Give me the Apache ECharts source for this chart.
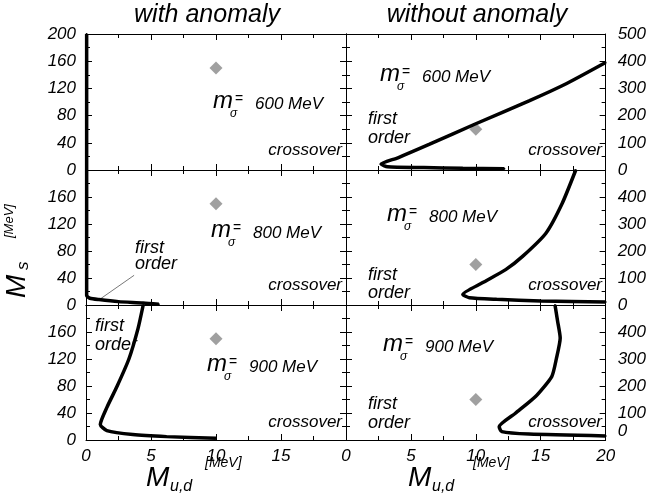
<!DOCTYPE html>
<html>
<head>
<meta charset="utf-8">
<script src="https://cdn.jsdelivr.net/npm/echarts@6/dist/echarts.min.js"></script>
<style>
html, body { margin: 0; padding: 0; background: #fff; }
#chart { width: 649px; height: 495px; }
</style>
</head>
<body>
<div id="chart"></div>
<script>
/* ========== 数据 ========== */

const xMinMax = [0, 20];
const xTickStep = 5;
const yLeftMinMax = [0, 200];
const yLeftStep = 40;
const yRightMinMax = [0, 500];
const yRightStep = 100;

const sigmaMasses = ["600", "800", "900"];
const columnTitles = ["with anomaly", "without anomaly"];
const refPoint = [10, 150];

// with anomaly
const withAnomaly600 = [[0.05, 0], [0.05, 200]];
const withAnomaly800 = [[0.05, 200], [0.05, 14], [0.3, 10], [1.0, 8], [2.5, 5], [4.4, 3], [5.6, 1]];
const withAnomaly900 = [[4.4, 200], [4.0, 165], [3.3, 120], [2.4, 80], [1.6, 48], [1.1, 23],
    [1.6, 14], [3.6, 8], [6.2, 5], [10, 2.5]];
const leader800 = [[3.7, 44], [1.1, 9]];

// without anomaly
const noAnomaly600 = [[20, 395], [17, 318], [14.1, 254], [10, 170], [6.4, 94], [4, 45], [2.7, 22],
    [3.2, 12], [6, 9], [9, 6], [12.2, 5]];
const noAnomaly800 = [[17.7, 500], [16.65, 376], [15.4, 266], [13.6, 180], [12.3, 131], [10.5, 82],
    [9.0, 39], [9.5, 27], [11.6, 21], [15, 15], [20, 11]];
const noAnomaly900 = [[16.1, 500], [16.3, 440], [16.5, 378], [16.2, 300], [15.85, 235], [14.6, 161],
    [13.05, 99], [11.8, 49], [12.0, 31], [14.1, 22], [20, 15]];

const curves = [
    [withAnomaly600, noAnomaly600],
    [withAnomaly800, noAnomaly800],
    [withAnomaly900, noAnomaly900],
];

/* ========== 布局 ========== */

const colLeft = [86, 346], colWidth = [260, 261];
const rowTop = [34, 170, 305], rowHeight = [136, 135, 135];
const FONT = "Liberation Sans";

const tickFont = { fontFamily: FONT, fontStyle: "italic", fontSize: 17, color: "#000" };
const blackLine = { color: "#000", width: 1 };

const grids = [], xAxes = [], yAxes = [], series = [];

for (let r = 0; r < 3; r++) {
    for (let c = 0; c < 2; c++) {
        const i = grids.length;
        grids.push({ left: colLeft[c], top: rowTop[r], width: colWidth[c], height: rowHeight[r] });

        const xBase = {
            gridIndex: i, type: "value", min: xMinMax[0], max: xMinMax[1], interval: xTickStep,
            axisLine: { show: true, onZero: false, lineStyle: blackLine },
            axisTick: { show: true, inside: true, length: 6, lineStyle: blackLine },
            minorTick: { show: true, splitNumber: 2, length: 4, lineStyle: blackLine },
            splitLine: { show: false },
        };
        xAxes.push({ ...xBase, position: "bottom",
            axisLabel: { show: r === 2, margin: 8, showMaxLabel: c === 1, ...tickFont } });
        xAxes.push({ ...xBase, position: "top", axisLabel: { show: false } });

        const yr = c === 0 ? yLeftMinMax : yRightMinMax;
        const yBase = {
            gridIndex: i, type: "value", min: yr[0], max: yr[1],
            interval: c === 0 ? yLeftStep : yRightStep,
            axisLine: { show: true, onZero: false, lineStyle: blackLine },
            axisTick: { show: true, inside: true, length: 6, lineStyle: blackLine },
            minorTick: { show: true, splitNumber: 2, length: 4, lineStyle: blackLine },
            splitLine: { show: false },
        };
        const rightLabel = { show: c === 1, margin: 12, showMaxLabel: r === 0, ...tickFont };
        if (r === 2 && c === 1) {
            // 右下角的 0 稍微上移，避开 x 轴的 20
            rightLabel.formatter = v => (v === 0 ? "{z|0}" : String(v));
            rightLabel.rich = { z: { ...tickFont, padding: [0, 0, 18, 0] } };
        }
        yAxes.push({ ...yBase, position: "left",
            axisLabel: { show: c === 0, margin: 10, showMaxLabel: r === 0, ...tickFont } });
        yAxes.push({ ...yBase, position: "right", axisLabel: rightLabel });

        series.push({
            type: "line", xAxisIndex: 2 * i, yAxisIndex: 2 * i,
            data: curves[r][c], symbol: "circle", symbolSize: 2, smooth: 0.2, clip: false,
            zlevel: 1, z: 5,
            itemStyle: { color: "#000" },
            lineStyle: { color: "#000", width: 3.5 },
        });
        series.push({
            type: "scatter", xAxisIndex: 2 * i, yAxisIndex: 2 * i,
            data: [refPoint], symbol: "diamond", symbolSize: 13,
            itemStyle: { color: "#888" },
        });
    }
}

// 800 MeV 左图的引线
series.push({
    type: "line", xAxisIndex: 4, yAxisIndex: 4, data: leader800,
    symbol: "none", lineStyle: { color: "#555", width: 0.8 },
});

/* ========== 文字 ========== */

function label(x, baseline, text, size, align, italic) {
    return {
        type: "text", x: x, y: baseline - 0.35 * size, silent: true,
        style: {
            text: text, fontSize: size, fontFamily: FONT,
            fontStyle: italic === false ? "normal" : "italic", fill: "#000",
            align: align || "left", textAlign: align || "left",
            verticalAlign: "middle", textVerticalAlign: "middle",
        },
    };
}

function massLabel(x0, b, val) {
    return [
        label(x0, b, "m", 24),
        label(x0 + 17, b + 8, "σ", 12),
        label(x0 + 22, b - 6, "=", 14, "left", false),
        label(x0 + 42, b, val + " MeV", 17),
    ];
}

const massPos = [[213, 110], [380, 83], [211, 239], [387, 223], [207, 373], [383, 353]];
const crossPos = [[342, 156], [602, 156], [342, 291.5], [602, 291.5], [342, 428], [602, 428]];
const firstOrderPos = [[368, 125, 144], [135, 254, 270], [368, 281, 299], [95, 332, 351], [368, 410, 429]];

const texts = [];
texts.push(label(207, 24, columnTitles[0], 25, "center"));
texts.push(label(477, 24, columnTitles[1], 25, "center"));
massPos.forEach((p, i) => texts.push(...massLabel(p[0], p[1], sigmaMasses[Math.floor(i / 2)])));
crossPos.forEach(p => texts.push(label(p[0], p[1], "crossover", 17, "right")));
firstOrderPos.forEach(p => {
    texts.push(label(p[0], p[1], "first", 18));
    texts.push(label(p[0], p[2], "order", 18));
});

// x 轴名称
[[146, 205], [408, 473]].forEach(([mx, ux]) => {
    texts.push(label(mx, 488, "M", 28));
    texts.push(label(mx + 24, 492, "u,d", 16));
    texts.push(label(ux, 468, "[MeV]", 14));
});

// y 轴名称（竖排）
texts.push({
    type: "group", x: 27, y: 298, rotation: Math.PI / 2, silent: true,
    children: [
        label(0, 0, "M", 28),
        label(28, 2, "s", 17),
        label(60, -13, "[MeV]", 13),
    ],
});

const chart = echarts.init(document.getElementById("chart"));
chart.setOption({
    animation: false,
    grid: grids,
    xAxis: xAxes,
    yAxis: yAxes,
    series: series,
    graphic: texts,
});
</script>
</body>
</html>
